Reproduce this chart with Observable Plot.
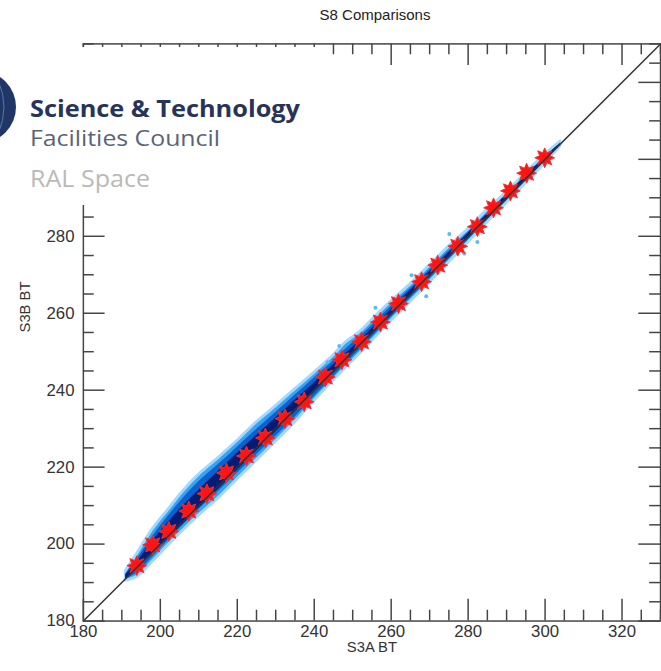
<!DOCTYPE html>
<html>
<head>
<meta charset="utf-8">
<script src="https://cdn.jsdelivr.net/npm/d3@7"></script>
<script src="https://cdn.jsdelivr.net/npm/@observablehq/plot@0.6"></script>
<style>
  html, body { margin: 0; padding: 0; background: #fff; overflow: hidden; }
  #wrap { position: relative; width: 661px; height: 671px; overflow: hidden; }
  #chart { position: absolute; left: 0; top: 0; }
  #subtitle { position: absolute; left: 0; width: 750px; top: 6px; text-align: center;
    font: 15px "Liberation Sans", Arial, sans-serif; color: #222; }
  #logo { position: absolute; left: 0; top: 47px; }
</style>
</head>
<body>
<div id="wrap">
  <div id="chart"></div>
  <div id="subtitle">S8 Comparisons</div>
  <svg id="logo" width="316" height="158" viewBox="0 47 316 158">
    <rect x="0" y="47" width="316" height="158" fill="#ffffff"/>
    <circle cx="-20" cy="107" r="36" fill="#1f3666"/>
    <path d="M -2 80 Q 10 107 -2 134" stroke="#5a78a8" stroke-width="1" fill="none"/>
    <text x="30" y="117" font-family="'Open Sans', 'Noto Sans', sans-serif" font-weight="700" font-size="23" fill="#27345a" textLength="270" lengthAdjust="spacingAndGlyphs">Science &amp; Technology</text>
    <text x="30" y="146" font-family="'Open Sans', 'Noto Sans', sans-serif" font-weight="400" font-size="22" fill="#59647a" textLength="190" lengthAdjust="spacingAndGlyphs">Facilities Council</text>
    <text x="30" y="187" font-family="'Open Sans', 'Noto Sans', sans-serif" font-weight="400" font-size="23" fill="#b9b9b9" textLength="120" lengthAdjust="spacingAndGlyphs">RAL Space</text>
  </svg>
</div>
<script>
// ---- data (brightness temperatures, K) ----
// binned comparison points (red stars)
const starX = [193.9, 198.0, 202.2, 207.4, 212.1, 217.2, 222.4, 227.3, 232.4, 237.4, 242.9, 247.2, 252.3, 257.2, 261.9, 267.9, 272.1, 277.3, 282.4, 286.6, 291.0, 295.2, 299.9];
const starY = [194.4, 199.8, 203.3, 208.6, 213.1, 218.5, 222.9, 227.6, 232.6, 237.0, 243.4, 247.9, 252.6, 257.7, 262.5, 268.2, 272.5, 277.4, 282.5, 287.4, 291.8, 296.4, 300.4];

// density cloud envelope (S3B BT range at given S3A BT)
const cloudX  = [191.0, 194.0, 198.0, 202.0, 206.0, 210.0, 215.0, 220.0, 225.0, 230.0, 235.0, 240.0, 245.0, 248.0, 252.0, 256.0, 260.0, 265.0, 270.0, 275.0, 280.0, 285.0, 290.0, 295.0, 300.0, 304.0];
const outerLo = [190.5, 191.5, 195.4, 199.6, 203.6, 207.4, 211.8, 216.8, 221.7, 226.6, 231.7, 237.2, 242.5, 245.6, 249.6, 253.8, 258.0, 263.0, 268.0, 273.2, 278.4, 283.6, 288.6, 293.8, 299.0, 303.4];
const outerHi = [193.0, 197.5, 203.8, 208.8, 213.8, 218.0, 222.3, 226.8, 231.6, 235.8, 240.2, 244.5, 249.0, 252.2, 255.2, 259.2, 263.0, 267.5, 272.4, 277.3, 281.8, 286.8, 291.4, 296.4, 301.2, 304.6];
const midLo   = [190.8, 192.6, 196.6, 200.9, 205.0, 209.0, 213.6, 218.4, 223.2, 228.0, 233.0, 238.3, 243.5, 246.6, 250.7, 254.8, 258.9, 263.9, 268.9, 274.0, 279.0, 284.2, 289.2, 294.4, 299.5, 303.8];
const midHi   = [192.2, 196.2, 202.0, 207.2, 212.0, 216.2, 220.6, 225.2, 229.8, 234.2, 238.7, 243.2, 247.6, 250.5, 254.0, 257.8, 261.8, 266.4, 271.3, 276.2, 281.0, 286.0, 290.9, 295.8, 300.7, 304.2];
const coreLo  = [191.0, 193.7, 197.5, 201.4, 205.3, 209.3, 214.2, 219.2, 224.2, 229.2, 234.3, 239.4, 244.4, 247.4, 251.4, 255.4, 259.4, 264.4, 269.4, 274.4, 279.4, 284.4, 289.4, 294.5, 299.6, 303.9];
const coreHi  = [192.0, 195.4, 200.8, 205.6, 210.0, 214.0, 218.8, 223.6, 228.2, 232.8, 237.4, 241.9, 246.6, 249.3, 253.0, 257.0, 261.0, 265.9, 270.8, 275.7, 280.7, 285.7, 290.7, 295.7, 300.5, 304.1];

// isolated outlier pixels
const outX = [243.5, 246.5, 255.9, 265.3, 269.1, 275.1, 279.0, 282.4];
const outY = [247.3, 251.5, 261.4, 269.9, 264.4, 280.6, 275.5, 278.5];

// 1:1 line
const lineX = [180, 330];
const lineY = [180, 330];

// axes (y labels above 280 are hidden under the logo panel in the reference)
const xTicks = [180, 200, 220, 240, 260, 280, 300, 320];
const yTicks = [180, 200, 220, 240, 260, 280, 300, 320];
const yLabels = [180, 200, 220, 240, 260, 280];
const xMinor = d3.range(180, 331, 5).filter(v => !xTicks.includes(v));
const yMinor = d3.range(180, 331, 5).filter(v => !yTicks.includes(v));

// ---- build ----
const cloud = cloudX.map((x, i) => ({x, oLo: outerLo[i], oHi: outerHi[i], mLo: midLo[i], mHi: midHi[i], cLo: coreLo[i], cHi: coreHi[i]}));
const stars = starX.map((x, i) => ({x, y: starY[i]}));
const outliers = outX.map((x, i) => ({x, y: outY[i]}));
const oneToOne = lineX.map((x, i) => ({x, y: lineY[i]}));

const star8 = {
  draw(context, size) {
    const R = Math.sqrt(size / Math.PI), r = R * 0.55;
    for (let i = 0; i < 16; i++) {
      const a = i * Math.PI / 8 - Math.PI / 2;
      const rad = i % 2 ? r : R;
      const px = rad * Math.cos(a), py = rad * Math.sin(a);
      if (i === 0) context.moveTo(px, py); else context.lineTo(px, py);
    }
    context.closePath();
  }
};

const inner = 585;
const axisColor = "#444";

const chart = Plot.plot({
  width: 670,
  height: 671,
  marginLeft: 84,
  marginRight: 1,
  marginTop: 44,
  marginBottom: 42,
  x: {domain: [180, 330]},
  y: {domain: [180, 330]},
  style: {fontFamily: "'Liberation Sans', Arial, sans-serif", fontSize: "17px", color: "#333", background: "transparent"},
  marks: [
    Plot.areaY(cloud, {x: "x", y1: "oLo", y2: "oHi", fill: "#3aa2f0", stroke: "#a4d9ff", strokeWidth: 3, curve: "catmull-rom"}),
    Plot.dot(outliers, {x: "x", y: "y", r: 2, fill: "#5ab8ff"}),
    Plot.areaY(cloud, {x: "x", y1: "mLo", y2: "mHi", fill: "#0862d0", curve: "catmull-rom"}),
    Plot.areaY(cloud, {x: "x", y1: "cLo", y2: "cHi", fill: "#061c74", curve: "catmull-rom"}),
    Plot.dot(stars, {x: "x", y: "y", symbol: star8, r: 10, fill: "#ff1414", stroke: "#f03030", strokeWidth: 1}),
    Plot.line(oneToOne, {x: "x", y: "y", stroke: "#333", strokeWidth: 1.5}),
    Plot.frame({stroke: axisColor, strokeWidth: 1.5}),
    Plot.tickX(xTicks, {stroke: axisColor, strokeWidth: 1.5, insetTop: inner - 22}),
    Plot.tickX(xMinor, {stroke: axisColor, strokeWidth: 1.5, insetTop: inner - 11}),
    Plot.tickX(xTicks, {stroke: axisColor, strokeWidth: 1.5, insetBottom: inner - 22}),
    Plot.tickX(xMinor, {stroke: axisColor, strokeWidth: 1.5, insetBottom: inner - 11}),
    Plot.tickY(yTicks, {stroke: axisColor, strokeWidth: 1.5, insetRight: inner - 22}),
    Plot.tickY(yMinor, {stroke: axisColor, strokeWidth: 1.5, insetRight: inner - 11}),
    Plot.tickY(yTicks, {stroke: axisColor, strokeWidth: 1.5, insetLeft: inner - 22}),
    Plot.tickY(yMinor, {stroke: axisColor, strokeWidth: 1.5, insetLeft: inner - 11}),
    Plot.axisX(xTicks, {anchor: "bottom", tickSize: 0, tickPadding: 4, label: null, fontSize: 17}),
    Plot.axisY(yLabels, {anchor: "left", tickSize: 0, tickPadding: 9, label: null, fontSize: 17}),
    Plot.text(["S3A BT"], {frameAnchor: "bottom", dy: 31, fontSize: 15, fill: "#333"}),
    Plot.text(["S3B BT"], {frameAnchor: "left", dx: -59, rotate: -90, fontSize: 15, fill: "#333"})
  ]
});
document.getElementById("chart").appendChild(chart);
</script>
</body>
</html>
